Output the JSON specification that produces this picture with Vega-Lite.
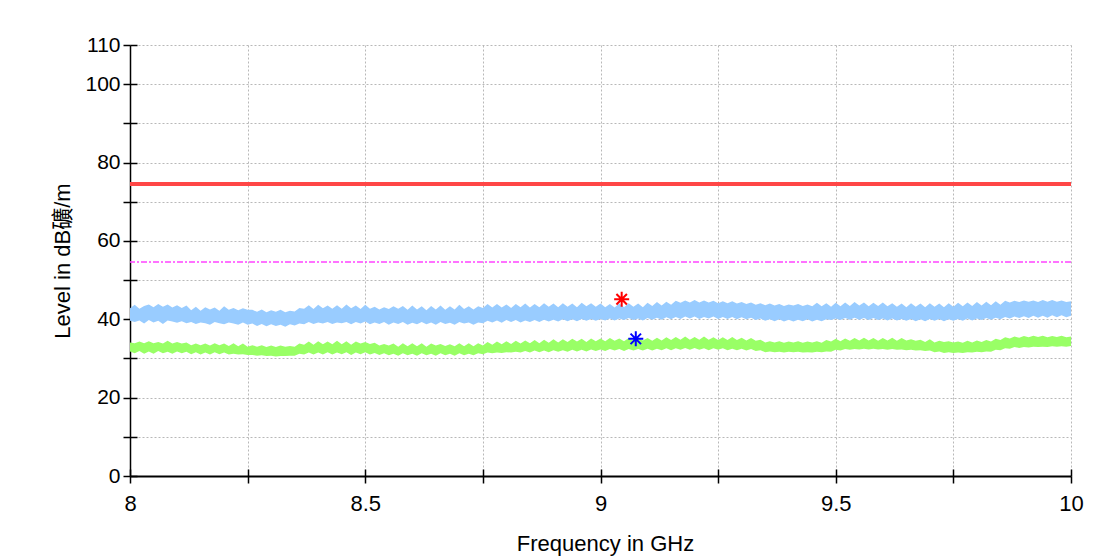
{
  "$schema": "https://vega.github.io/schema/vega-lite/v6.json",
  "width": 941,
  "height": 431,
  "autosize": "none",
  "padding": {"left": 130, "top": 45, "right": 29, "bottom": 80},
  "background": "white",
  "config": {
    "view": {"stroke": null},
    "font": "Liberation Sans, Noto Sans CJK SC",
    "axis": {
      "domainColor": "#000000",
      "tickColor": "#000000", "tickWidth": 1.5,
      "gridColor": "#b8b8b8", "gridDash": [2, 2], "gridWidth": 1,
      "labelFont": "Liberation Sans", "labelColor": "#000000",
      "labelOverlap": false, "labelFlush": false, "labelBound": false,
      "titleFont": "Liberation Sans, Noto Sans CJK SC", "titleFontSize": 22,
      "titleFontWeight": "normal", "titleColor": "#000000"
    },
    "axisX": {"labelFontSize": 22, "labelPadding": 10, "domainWidth": 2},
    "axisY": {"labelFontSize": 21, "labelPadding": 3, "domainWidth": 1.5}
  },
  "datasets": {
    "scan": [
      {"f":8.00,"bl":39.6,"bh":42.8,"gl":31.8,"gh":34.1},
      {"f":8.01,"bl":39.3,"bh":43.7,"gl":31.3,"gh":33.9},
      {"f":8.02,"bl":39.7,"bh":42.7,"gl":31.9,"gh":34.3},
      {"f":8.03,"bl":38.9,"bh":43.4,"gl":31.2,"gh":33.9},
      {"f":8.04,"bl":39.8,"bh":43.8,"gl":31.8,"gh":34.4},
      {"f":8.05,"bl":39.2,"bh":43.1,"gl":31.2,"gh":33.9},
      {"f":8.06,"bl":39.6,"bh":43.9,"gl":31.9,"gh":34.2},
      {"f":8.07,"bl":38.8,"bh":43.2,"gl":31.3,"gh":33.8},
      {"f":8.08,"bl":39.7,"bh":43.8,"gl":31.7,"gh":34.5},
      {"f":8.09,"bl":39.4,"bh":43.0,"gl":31.2,"gh":33.8},
      {"f":8.10,"bl":39.1,"bh":43.6,"gl":31.8,"gh":34.2},
      {"f":8.11,"bl":39.5,"bh":42.9,"gl":31.3,"gh":33.8},
      {"f":8.12,"bl":39.0,"bh":43.5,"gl":31.7,"gh":34.1},
      {"f":8.13,"bl":39.3,"bh":42.3,"gl":31.1,"gh":33.4},
      {"f":8.14,"bl":38.8,"bh":43.2,"gl":31.6,"gh":33.8},
      {"f":8.15,"bl":39.2,"bh":42.2,"gl":31.0,"gh":33.4},
      {"f":8.16,"bl":39.0,"bh":43.1,"gl":31.5,"gh":33.8},
      {"f":8.17,"bl":38.6,"bh":42.5,"gl":31.0,"gh":33.3},
      {"f":8.18,"bl":39.3,"bh":43.0,"gl":31.6,"gh":33.9},
      {"f":8.19,"bl":39.0,"bh":42.2,"gl":31.1,"gh":33.4},
      {"f":8.20,"bl":38.7,"bh":43.3,"gl":31.5,"gh":33.8},
      {"f":8.21,"bl":39.2,"bh":42.4,"gl":31.0,"gh":33.2},
      {"f":8.22,"bl":38.9,"bh":42.9,"gl":31.2,"gh":33.9},
      {"f":8.23,"bl":38.6,"bh":42.3,"gl":31.0,"gh":33.1},
      {"f":8.24,"bl":39.2,"bh":42.8,"gl":31.1,"gh":33.8},
      {"f":8.25,"bl":38.6,"bh":42.4,"gl":30.9,"gh":33.0},
      {"f":8.26,"bl":38.9,"bh":42.4,"gl":30.9,"gh":33.4},
      {"f":8.27,"bl":38.3,"bh":41.9,"gl":30.7,"gh":33.0},
      {"f":8.28,"bl":38.8,"bh":42.5,"gl":30.8,"gh":33.4},
      {"f":8.29,"bl":38.2,"bh":41.8,"gl":30.6,"gh":32.9},
      {"f":8.30,"bl":38.7,"bh":42.3,"gl":30.7,"gh":33.3},
      {"f":8.31,"bl":38.3,"bh":41.9,"gl":30.5,"gh":32.9},
      {"f":8.32,"bl":38.6,"bh":42.4,"gl":30.6,"gh":33.3},
      {"f":8.33,"bl":38.1,"bh":41.8,"gl":30.6,"gh":33.0},
      {"f":8.34,"bl":38.7,"bh":42.2,"gl":30.7,"gh":33.2},
      {"f":8.35,"bl":38.4,"bh":42.0,"gl":30.7,"gh":33.0},
      {"f":8.36,"bl":38.9,"bh":42.9,"gl":31.2,"gh":33.8},
      {"f":8.37,"bl":38.7,"bh":42.7,"gl":31.0,"gh":33.5},
      {"f":8.38,"bl":39.3,"bh":43.6,"gl":31.5,"gh":34.3},
      {"f":8.39,"bl":38.8,"bh":42.6,"gl":31.0,"gh":33.5},
      {"f":8.40,"bl":39.2,"bh":43.7,"gl":31.5,"gh":34.4},
      {"f":8.41,"bl":38.9,"bh":42.8,"gl":31.0,"gh":33.6},
      {"f":8.42,"bl":39.3,"bh":43.5,"gl":31.6,"gh":34.3},
      {"f":8.43,"bl":38.8,"bh":42.7,"gl":31.0,"gh":33.6},
      {"f":8.44,"bl":39.2,"bh":43.6,"gl":31.5,"gh":34.5},
      {"f":8.45,"bl":39.0,"bh":42.7,"gl":31.1,"gh":33.6},
      {"f":8.46,"bl":39.3,"bh":43.8,"gl":31.6,"gh":34.4},
      {"f":8.47,"bl":38.7,"bh":42.8,"gl":30.9,"gh":33.5},
      {"f":8.48,"bl":39.3,"bh":43.5,"gl":31.5,"gh":34.3},
      {"f":8.49,"bl":38.9,"bh":42.6,"gl":31.1,"gh":33.8},
      {"f":8.50,"bl":39.4,"bh":43.7,"gl":31.6,"gh":34.2},
      {"f":8.51,"bl":38.7,"bh":42.7,"gl":31.0,"gh":33.7},
      {"f":8.52,"bl":39.2,"bh":43.2,"gl":31.4,"gh":34.0},
      {"f":8.53,"bl":38.8,"bh":42.5,"gl":30.9,"gh":33.3},
      {"f":8.54,"bl":39.3,"bh":43.1,"gl":31.3,"gh":33.7},
      {"f":8.55,"bl":38.6,"bh":42.6,"gl":30.8,"gh":33.3},
      {"f":8.56,"bl":39.2,"bh":43.3,"gl":31.2,"gh":33.8},
      {"f":8.57,"bl":38.8,"bh":42.7,"gl":30.7,"gh":33.0},
      {"f":8.58,"bl":39.3,"bh":43.4,"gl":31.3,"gh":33.9},
      {"f":8.59,"bl":38.6,"bh":42.4,"gl":30.8,"gh":33.1},
      {"f":8.60,"bl":39.1,"bh":43.5,"gl":31.2,"gh":33.9},
      {"f":8.61,"bl":38.7,"bh":42.5,"gl":30.7,"gh":33.1},
      {"f":8.62,"bl":39.3,"bh":43.3,"gl":31.3,"gh":33.9},
      {"f":8.63,"bl":38.7,"bh":42.3,"gl":30.8,"gh":33.0},
      {"f":8.64,"bl":39.2,"bh":43.4,"gl":31.2,"gh":33.8},
      {"f":8.65,"bl":38.6,"bh":42.5,"gl":30.7,"gh":33.3},
      {"f":8.66,"bl":39.3,"bh":43.5,"gl":31.3,"gh":33.7},
      {"f":8.67,"bl":38.8,"bh":42.4,"gl":30.8,"gh":33.2},
      {"f":8.68,"bl":39.1,"bh":43.3,"gl":31.2,"gh":33.6},
      {"f":8.69,"bl":38.6,"bh":42.5,"gl":30.7,"gh":33.1},
      {"f":8.70,"bl":39.3,"bh":43.7,"gl":31.3,"gh":33.9},
      {"f":8.71,"bl":38.9,"bh":42.6,"gl":30.8,"gh":33.1},
      {"f":8.72,"bl":39.2,"bh":43.3,"gl":31.2,"gh":33.9},
      {"f":8.73,"bl":38.6,"bh":42.5,"gl":30.8,"gh":33.1},
      {"f":8.74,"bl":39.2,"bh":43.3,"gl":31.3,"gh":33.9},
      {"f":8.75,"bl":39.0,"bh":42.9,"gl":31.1,"gh":33.3},
      {"f":8.76,"bl":39.6,"bh":43.9,"gl":31.5,"gh":34.2},
      {"f":8.77,"bl":39.2,"bh":43.0,"gl":31.3,"gh":33.5},
      {"f":8.78,"bl":39.7,"bh":43.9,"gl":31.5,"gh":34.3},
      {"f":8.79,"bl":39.1,"bh":43.0,"gl":31.4,"gh":33.6},
      {"f":8.80,"bl":39.8,"bh":43.8,"gl":31.6,"gh":34.4},
      {"f":8.81,"bl":39.3,"bh":42.9,"gl":31.5,"gh":33.7},
      {"f":8.82,"bl":39.8,"bh":43.9,"gl":31.7,"gh":34.5},
      {"f":8.83,"bl":39.2,"bh":43.1,"gl":31.5,"gh":33.8},
      {"f":8.84,"bl":39.7,"bh":44.0,"gl":31.9,"gh":34.6},
      {"f":8.85,"bl":39.3,"bh":43.0,"gl":31.5,"gh":33.9},
      {"f":8.86,"bl":39.8,"bh":43.9,"gl":32.0,"gh":34.7},
      {"f":8.87,"bl":39.3,"bh":43.1,"gl":31.6,"gh":33.9},
      {"f":8.88,"bl":39.9,"bh":44.1,"gl":32.0,"gh":34.8},
      {"f":8.89,"bl":39.4,"bh":43.2,"gl":31.6,"gh":34.0},
      {"f":8.90,"bl":39.9,"bh":44.0,"gl":32.1,"gh":34.9},
      {"f":8.91,"bl":39.4,"bh":43.1,"gl":31.7,"gh":34.1},
      {"f":8.92,"bl":40.0,"bh":44.1,"gl":32.1,"gh":34.9},
      {"f":8.93,"bl":39.5,"bh":43.2,"gl":31.7,"gh":34.2},
      {"f":8.94,"bl":40.0,"bh":44.0,"gl":32.2,"gh":35.0},
      {"f":8.95,"bl":39.5,"bh":43.1,"gl":31.8,"gh":34.3},
      {"f":8.96,"bl":40.1,"bh":44.2,"gl":32.2,"gh":35.0},
      {"f":8.97,"bl":39.6,"bh":43.3,"gl":31.8,"gh":34.2},
      {"f":8.98,"bl":40.1,"bh":44.1,"gl":32.3,"gh":35.1},
      {"f":8.99,"bl":39.6,"bh":43.2,"gl":31.9,"gh":34.4},
      {"f":9.00,"bl":40.1,"bh":44.0,"gl":32.3,"gh":35.1},
      {"f":9.01,"bl":39.7,"bh":43.1,"gl":31.9,"gh":34.4},
      {"f":9.02,"bl":40.2,"bh":43.9,"gl":32.4,"gh":35.2},
      {"f":9.03,"bl":39.7,"bh":43.0,"gl":32.0,"gh":34.5},
      {"f":9.04,"bl":40.2,"bh":44.0,"gl":32.4,"gh":35.1},
      {"f":9.05,"bl":39.8,"bh":43.1,"gl":31.9,"gh":34.4},
      {"f":9.06,"bl":40.3,"bh":44.1,"gl":32.4,"gh":35.2},
      {"f":9.07,"bl":39.8,"bh":43.2,"gl":32.0,"gh":34.5},
      {"f":9.08,"bl":40.2,"bh":44.0,"gl":32.4,"gh":35.3},
      {"f":9.09,"bl":39.7,"bh":43.1,"gl":32.0,"gh":34.6},
      {"f":9.10,"bl":40.3,"bh":44.2,"gl":32.5,"gh":35.2},
      {"f":9.11,"bl":39.9,"bh":43.4,"gl":32.0,"gh":34.5},
      {"f":9.12,"bl":40.4,"bh":44.4,"gl":32.5,"gh":35.3},
      {"f":9.13,"bl":39.9,"bh":43.5,"gl":32.1,"gh":34.6},
      {"f":9.14,"bl":40.5,"bh":44.5,"gl":32.6,"gh":35.4},
      {"f":9.15,"bl":40.0,"bh":43.7,"gl":32.1,"gh":34.7},
      {"f":9.16,"bl":40.6,"bh":44.7,"gl":32.6,"gh":35.5},
      {"f":9.17,"bl":40.1,"bh":44.2,"gl":32.2,"gh":34.8},
      {"f":9.18,"bl":40.7,"bh":44.8,"gl":32.7,"gh":35.6},
      {"f":9.19,"bl":40.2,"bh":44.3,"gl":32.2,"gh":34.8},
      {"f":9.20,"bl":40.7,"bh":44.9,"gl":32.7,"gh":35.5},
      {"f":9.21,"bl":40.1,"bh":44.3,"gl":32.2,"gh":34.8},
      {"f":9.22,"bl":40.6,"bh":44.8,"gl":32.6,"gh":35.6},
      {"f":9.23,"bl":40.2,"bh":44.3,"gl":32.1,"gh":34.8},
      {"f":9.24,"bl":40.7,"bh":44.7,"gl":32.6,"gh":35.4},
      {"f":9.25,"bl":40.1,"bh":44.1,"gl":32.2,"gh":34.7},
      {"f":9.26,"bl":40.6,"bh":44.6,"gl":32.6,"gh":35.4},
      {"f":9.27,"bl":40.1,"bh":44.1,"gl":32.1,"gh":34.7},
      {"f":9.28,"bl":40.6,"bh":44.6,"gl":32.5,"gh":35.5},
      {"f":9.29,"bl":40.0,"bh":44.0,"gl":32.1,"gh":34.7},
      {"f":9.30,"bl":40.5,"bh":44.4,"gl":32.5,"gh":35.3},
      {"f":9.31,"bl":40.0,"bh":43.9,"gl":32.0,"gh":34.6},
      {"f":9.32,"bl":40.4,"bh":44.3,"gl":32.4,"gh":35.2},
      {"f":9.33,"bl":39.8,"bh":43.7,"gl":31.9,"gh":34.5},
      {"f":9.34,"bl":40.2,"bh":44.1,"gl":32.1,"gh":34.8},
      {"f":9.35,"bl":39.6,"bh":43.6,"gl":31.6,"gh":34.1},
      {"f":9.36,"bl":40.0,"bh":44.0,"gl":31.8,"gh":34.4},
      {"f":9.37,"bl":39.5,"bh":43.5,"gl":31.6,"gh":34.1},
      {"f":9.38,"bl":40.0,"bh":43.9,"gl":31.7,"gh":34.4},
      {"f":9.39,"bl":39.4,"bh":43.4,"gl":31.5,"gh":34.0},
      {"f":9.40,"bl":39.9,"bh":43.8,"gl":31.7,"gh":34.3},
      {"f":9.41,"bl":39.4,"bh":43.5,"gl":31.6,"gh":34.1},
      {"f":9.42,"bl":39.9,"bh":43.9,"gl":31.7,"gh":34.4},
      {"f":9.43,"bl":39.5,"bh":43.4,"gl":31.5,"gh":34.0},
      {"f":9.44,"bl":40.0,"bh":43.8,"gl":31.6,"gh":34.3},
      {"f":9.45,"bl":39.4,"bh":43.3,"gl":31.5,"gh":34.1},
      {"f":9.46,"bl":39.9,"bh":44.2,"gl":31.7,"gh":34.4},
      {"f":9.47,"bl":39.5,"bh":43.3,"gl":31.6,"gh":34.0},
      {"f":9.48,"bl":40.0,"bh":44.1,"gl":31.8,"gh":34.7},
      {"f":9.49,"bl":39.8,"bh":43.2,"gl":31.7,"gh":34.3},
      {"f":9.50,"bl":40.2,"bh":44.2,"gl":32.2,"gh":35.0},
      {"f":9.51,"bl":39.8,"bh":43.3,"gl":32.0,"gh":34.4},
      {"f":9.52,"bl":40.3,"bh":44.3,"gl":32.4,"gh":35.1},
      {"f":9.53,"bl":39.9,"bh":43.4,"gl":32.2,"gh":34.5},
      {"f":9.54,"bl":40.4,"bh":44.4,"gl":32.4,"gh":35.2},
      {"f":9.55,"bl":39.9,"bh":43.5,"gl":32.3,"gh":34.6},
      {"f":9.56,"bl":40.3,"bh":44.3,"gl":32.5,"gh":35.3},
      {"f":9.57,"bl":39.8,"bh":43.3,"gl":32.3,"gh":34.6},
      {"f":9.58,"bl":40.3,"bh":44.2,"gl":32.5,"gh":35.2},
      {"f":9.59,"bl":39.8,"bh":43.4,"gl":32.3,"gh":34.5},
      {"f":9.60,"bl":40.2,"bh":44.3,"gl":32.4,"gh":35.2},
      {"f":9.61,"bl":39.7,"bh":43.3,"gl":32.2,"gh":34.6},
      {"f":9.62,"bl":40.2,"bh":44.1,"gl":32.4,"gh":35.3},
      {"f":9.63,"bl":39.7,"bh":43.2,"gl":32.2,"gh":34.5},
      {"f":9.64,"bl":40.1,"bh":44.0,"gl":32.3,"gh":35.2},
      {"f":9.65,"bl":39.6,"bh":43.1,"gl":32.1,"gh":34.6},
      {"f":9.66,"bl":40.1,"bh":44.1,"gl":32.2,"gh":34.9},
      {"f":9.67,"bl":39.5,"bh":43.2,"gl":32.0,"gh":34.5},
      {"f":9.68,"bl":40.0,"bh":44.0,"gl":32.1,"gh":34.8},
      {"f":9.69,"bl":39.5,"bh":43.1,"gl":31.9,"gh":34.2},
      {"f":9.70,"bl":40.1,"bh":44.1,"gl":32.0,"gh":34.9},
      {"f":9.71,"bl":39.6,"bh":43.2,"gl":31.6,"gh":34.1},
      {"f":9.72,"bl":40.1,"bh":44.0,"gl":31.8,"gh":34.5},
      {"f":9.73,"bl":39.5,"bh":43.1,"gl":31.4,"gh":34.2},
      {"f":9.74,"bl":40.0,"bh":44.1,"gl":31.6,"gh":34.4},
      {"f":9.75,"bl":39.6,"bh":43.2,"gl":31.4,"gh":34.1},
      {"f":9.76,"bl":40.1,"bh":44.2,"gl":31.5,"gh":34.3},
      {"f":9.77,"bl":39.6,"bh":43.3,"gl":31.4,"gh":34.0},
      {"f":9.78,"bl":40.2,"bh":44.3,"gl":31.6,"gh":34.5},
      {"f":9.79,"bl":39.7,"bh":43.4,"gl":31.5,"gh":34.1},
      {"f":9.80,"bl":40.2,"bh":44.4,"gl":31.7,"gh":34.6},
      {"f":9.81,"bl":39.8,"bh":43.5,"gl":31.6,"gh":34.2},
      {"f":9.82,"bl":40.3,"bh":44.5,"gl":31.8,"gh":34.7},
      {"f":9.83,"bl":39.9,"bh":43.6,"gl":31.7,"gh":34.3},
      {"f":9.84,"bl":40.4,"bh":44.6,"gl":32.2,"gh":35.0},
      {"f":9.85,"bl":40.0,"bh":43.7,"gl":32.1,"gh":34.7},
      {"f":9.86,"bl":40.6,"bh":44.7,"gl":32.6,"gh":35.4},
      {"f":9.87,"bl":40.2,"bh":44.3,"gl":32.5,"gh":35.1},
      {"f":9.88,"bl":40.7,"bh":44.7,"gl":32.9,"gh":35.6},
      {"f":9.89,"bl":40.3,"bh":44.4,"gl":32.7,"gh":35.3},
      {"f":9.90,"bl":40.8,"bh":44.8,"gl":32.9,"gh":35.7},
      {"f":9.91,"bl":40.3,"bh":44.5,"gl":32.8,"gh":35.4},
      {"f":9.92,"bl":40.9,"bh":44.8,"gl":33.0,"gh":35.8},
      {"f":9.93,"bl":40.4,"bh":44.4,"gl":32.9,"gh":35.5},
      {"f":9.94,"bl":40.9,"bh":44.9,"gl":33.0,"gh":35.8},
      {"f":9.95,"bl":40.4,"bh":44.5,"gl":32.9,"gh":35.4},
      {"f":9.96,"bl":41.0,"bh":44.9,"gl":33.1,"gh":35.7},
      {"f":9.97,"bl":40.5,"bh":44.5,"gl":33.0,"gh":35.5},
      {"f":9.98,"bl":41.0,"bh":44.8,"gl":33.1,"gh":35.8},
      {"f":9.99,"bl":40.5,"bh":44.4,"gl":33.0,"gh":35.4},
      {"f":10.00,"bl":40.9,"bh":44.6,"gl":33.2,"gh":35.6}
    ],
    "limit": [{"v": 74.5}],
    "avglimit": [{"v": 54.6}],
    "markers": [
      {"f": 9.045, "v": 45.1, "det": "Peak"},
      {"f": 9.075, "v": 35.0, "det": "Average"}
    ]
  },
  "layer": [
    {
      "layer": [
        {
          "data": {"name": "scan"},
          "mark": {"type": "area", "color": "#99ccff"},
          "encoding": {
            "x": {
              "field": "f", "type": "quantitative", "title": "Frequency in GHz",
              "scale": {"domain": [8, 10], "nice": false, "zero": false},
              "axis": {
                "values": [8, 8.25, 8.5, 8.75, 9, 9.25, 9.5, 9.75, 10],
                "tickCount": 40,
                "format": "~g",
                "labelExpr": "(datum.value * 4) % 2 == 0 ? datum.label : ''",
                "labelOverlap": false,
                "grid": true, "tickSize": 7,
                "titleX": 475, "titleY": 74, "titleBaseline": "alphabetic", "titleAlign": "center"
              }
            },
            "y": {
              "field": "bl", "type": "quantitative", "title": "Level in dB礦/m",
              "scale": {"domain": [0, 110], "nice": false, "zero": true},
              "axis": {
                "values": [0, 10, 20, 30, 40, 50, 60, 70, 80, 90, 100, 109.999],
                "tickCount": 40,
                "labelExpr": "datum.value > 105 ? '110' : (datum.value % 20 == 0 ? datum.label : '')",
                "labelOverlap": false,
                "grid": true, "tickSize": 7,
                "titleX": -61, "titleY": 215.5, "titleAngle": -90, "titleBaseline": "alphabetic", "titleAlign": "center"
              }
            },
            "y2": {"field": "bh"}
          }
        },
        {
          "data": {"name": "scan"},
          "mark": {"type": "area", "color": "#99ff66"},
          "encoding": {
            "x": {"field": "f", "type": "quantitative", "title": "Frequency in GHz"},
            "y": {"field": "gl", "type": "quantitative", "title": "Level in dB礦/m"},
            "y2": {"field": "gh"}
          }
        },
        {
          "data": {"name": "limit"},
          "mark": {"type": "rule", "color": "#ff4646", "strokeWidth": 4},
          "encoding": {
            "y": {"field": "v", "type": "quantitative", "title": "Level in dB礦/m"}
          }
        },
        {
          "data": {"name": "avglimit"},
          "mark": {"type": "rule", "color": "#ff44ff", "strokeWidth": 1.5, "strokeDash": [6, 2, 2, 2]},
          "encoding": {
            "y": {"field": "v", "type": "quantitative", "title": "Level in dB礦/m"}
          }
        },
        {
          "data": {"name": "markers"},
          "mark": {
            "type": "point",
            "shape": "M0,-1L0,1M-1,0L1,0M-0.7,-0.7L0.7,0.7M-0.7,0.7L0.7,-0.7",
            "size": 225, "filled": false, "strokeWidth": 2, "opacity": 1
          },
          "encoding": {
            "x": {"field": "f", "type": "quantitative", "title": "Frequency in GHz"},
            "y": {"field": "v", "type": "quantitative", "title": "Level in dB礦/m"},
            "stroke": {
              "field": "det", "type": "nominal",
              "scale": {"domain": ["Peak", "Average"], "range": ["#ff0000", "#0000ff"]},
              "legend": null
            }
          }
        }
      ]
    },
    {
      "data": {"name": "markers"},
      "mark": {"type": "point", "opacity": 0},
      "encoding": {
        "x": {
          "field": "f", "type": "quantitative",
          "scale": {"domain": [8, 10], "nice": false, "zero": false},
          "axis": {
            "orient": "bottom", "values": [8, 8.25, 8.5, 8.75, 9, 9.25, 9.5, 9.75, 9.9999],
            "tickCount": 40,
            "labels": false, "domain": false, "grid": false, "title": null,
            "ticks": true, "tickColor": "#000000", "tickSize": 7, "offset": -7, "zindex": 1
          }
        },
        "y": {
          "field": "v", "type": "quantitative",
          "scale": {"domain": [0, 110], "nice": false, "zero": true},
          "axis": {
            "orient": "left", "values": [0, 10, 20, 30, 40, 50, 60, 70, 80, 90, 100, 109.999],
            "tickCount": 40,
            "labels": false, "domain": false, "grid": false, "title": null,
            "ticks": true, "tickColor": "#000000", "tickSize": 7, "offset": -7, "zindex": 0
          }
        }
      }
    }
  ],
  "resolve": {"scale": {"x": "independent", "y": "independent"}, "axis": {"x": "independent", "y": "independent"}}
}
